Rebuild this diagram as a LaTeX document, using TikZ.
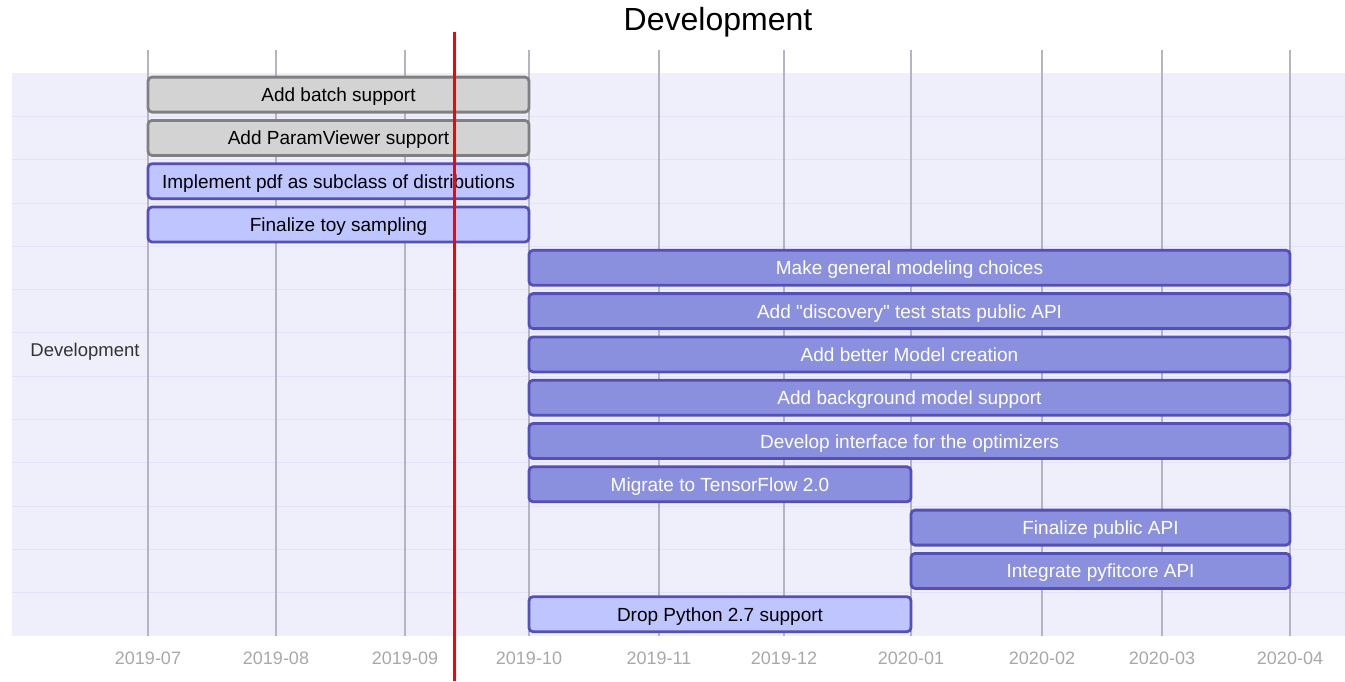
\documentclass[tikz,border=0pt]{standalone}
\usepackage{fontspec}
\setmainfont{Liberation Sans}
\newfontfamily\rawfont{Liberation Sans}[Ligatures=NoCommon]
\definecolor{rowbg}{HTML}{EFEFFC}
\definecolor{rowline}{HTML}{E2E2F8}
\definecolor{gridc}{HTML}{B4B4C4}
\definecolor{tickc}{HTML}{A8A8A8}
\definecolor{grayfill}{HTML}{D3D3D3}
\definecolor{graystroke}{HTML}{808080}
\definecolor{lightfill}{HTML}{BFC6FF}
\definecolor{darkfill}{HTML}{8A90DD}
\definecolor{barstroke}{HTML}{534FBC}
\definecolor{labelc}{HTML}{333333}
\tikzset{
  bar/.style={rounded corners=4pt, line width=2.8pt, minimum height=35pt, inner sep=0pt, text height=15pt, text depth=1pt, font=\fontsize{19}{21}\selectfont},
  donebar/.style={bar, draw=graystroke, fill=grayfill, text=black},
  activebar/.style={bar, draw=barstroke, fill=lightfill, text=black},
  futurebar/.style={bar, draw=barstroke, fill=darkfill, text=white},
  tick/.style={text=tickc, font=\fontsize{18}{20}\selectfont},
}
\newcommand{\barnode}[5]{% style, name, x0, x1, row
  \pgfmathsetmacro{\baryc}{73+43.3*(#5-1)+21.6}
  \pgfmathsetmacro{\barwdt}{#4-#3}
  \pgfmathsetmacro{\barxc}{(#3+#4)/2}
  \node[#1, minimum width=\barwdt pt] (#2) at (\barxc,\baryc)}
\begin{document}
\begin{tikzpicture}[x=1pt,y=-1pt]
\useasboundingbox (0,0) rectangle (1345,681);
% background band
\fill[rowbg] (12,73) rectangle (1345,636);
\foreach \i in {1,...,12} {
  \draw[rowline, line width=0.8pt] (12,{73+43.3*\i}) -- (1345,{73+43.3*\i});
}
% vertical grid
\foreach \x/\lab in {148/2019-07,276/2019-08,405/2019-09,529/2019-10,659/2019-11,784/2019-12,911/2020-01,1042/2020-02,1162/2020-03,1290/2020-04} {
  \draw[gridc, line width=1.5pt] (\x,50) -- (\x,636);
  \node[tick] at (\x,658) {\lab};
}
% title
\node[font=\fontsize{32}{36}\selectfont, text=black] (title) at (718,22) {Development};
% section label
\node[font=\fontsize{18.5}{21}\selectfont, text=labelc] (section) at (85,352) {Development};
% bars
\barnode{donebar}{b1}{148}{529}{1} {Add batch support};
\barnode{donebar}{b2}{148}{529}{2} {Add ParamViewer support};
\barnode{activebar}{b3}{148}{529}{3} {Implement pdf as subclass of distributions};
\barnode{activebar}{b4}{148}{529}{4} {Finalize toy sampling};
\barnode{futurebar}{b5}{529}{1290}{5} {Make general modeling choices};
\barnode{futurebar}{b6}{529}{1290}{6} {Add {\rawfont"}discovery{\rawfont"} test stats public API};
\barnode{futurebar}{b7}{529}{1290}{7} {Add better Model creation};
\barnode{futurebar}{b8}{529}{1290}{8} {Add background model support};
\barnode{futurebar}{b9}{529}{1290}{9} {Develop interface for the optimizers};
\barnode{futurebar}{b10}{529}{911}{10} {Migrate to TensorFlow 2.0};
\barnode{futurebar}{b11}{911}{1290}{11} {Finalize public API};
\barnode{futurebar}{b12}{911}{1290}{12} {Integrate pyfitcore API};
\barnode{activebar}{b13}{529}{911}{13} {Drop Python 2.7 support};
% today marker
\draw[red, line width=3pt] (454,32) -- (454,681);
\end{tikzpicture}
\end{document}
